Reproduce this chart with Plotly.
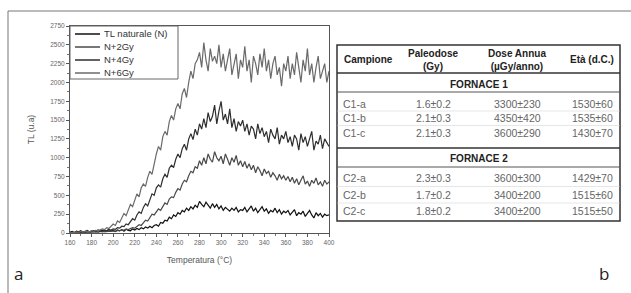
import plotly.graph_objects as go

W, H = 631, 293

temps = list(range(160, 401, 2))

tl_nat = [10,20,5,25,15,30,10,20,35,15,25,30,20,40,25,35,20,30,45,25,
          35,20,40,30,45,25,50,35,30,55,40,60,45,70,55,80,65,90,70,100,
          110,90,140,130,170,160,210,190,240,220,270,250,300,280,330,300,350,320,370,340,
          420,380,350,410,360,330,390,340,380,320,360,300,340,310,290,330,300,340,280,310,
          300,340,280,320,360,290,330,270,310,350,290,320,260,300,280,330,270,310,250,290,
          270,300,240,280,310,230,270,250,290,220,260,300,240,200,270,230,260,210,250,230,
          240]
n2gy = [0,8,3,10,5,12,7,10,15,9,14,12,18,10,20,15,22,18,25,20,
        28,22,35,30,40,38,50,45,60,70,65,90,110,100,140,170,160,210,250,240,
        280,320,300,360,400,380,450,480,470,540,590,570,650,700,680,760,820,800,880,860,
        960,900,1000,920,1050,980,940,1080,1000,960,1020,920,1050,980,900,1000,940,1030,900,960,
        880,950,860,920,840,900,800,880,830,760,850,790,820,740,800,760,700,780,720,760,
        700,750,680,740,660,720,640,700,760,650,690,620,700,660,730,640,680,620,700,650,
        680]
n4gy = [0,5,10,3,12,8,15,10,20,14,18,25,15,30,22,28,35,30,45,40,
        55,48,70,65,90,85,120,110,160,190,170,240,280,260,340,390,360,450,520,500,
        600,640,610,720,780,740,860,900,870,980,1050,1000,1120,1180,1100,1250,1320,1240,1380,1300,
        1450,1380,1520,1400,1600,1480,1550,1700,1450,1620,1750,1500,1580,1450,1650,1400,1520,1350,1480,1420,
        1500,1350,1450,1300,1420,1380,1250,1450,1320,1400,1280,1350,1200,1380,1300,1250,1400,1180,1300,1250,
        1350,1200,1280,1150,1300,1250,1100,1320,1200,1280,1150,1250,1350,1100,1220,1180,1300,1120,1250,1200,
        1150]
n6gy = [0,10,5,15,8,20,12,18,25,15,30,22,35,28,40,55,45,70,60,90,
        120,100,160,140,210,260,230,320,380,350,450,520,480,600,650,620,740,820,780,930,
        1050,1150,1100,1280,1350,1300,1480,1560,1500,1650,1720,1650,1850,1920,1800,2000,2150,2050,2250,2300,
        2400,2200,2530,2300,2150,2450,2280,2350,2250,2500,2200,2380,2150,2300,2450,2100,2250,2380,2050,2300,
        2200,2480,2150,2300,2000,2350,2250,2100,2380,2200,2450,2150,2300,2050,2250,2350,2100,2200,1950,2250,
        2150,2350,2050,2250,2100,2400,2200,2000,2300,2150,2450,2100,2250,2000,2200,2350,2050,2150,2250,2000,
        2150]

series_names = ["TL naturale (N)", "N+2Gy", "N+4Gy", "N+6Gy"]
series_vals = [tl_nat, n2gy, n4gy, n6gy]
series_cols = ["#111111", "#4a4a4a", "#2e2e2e", "#6a6a6a"]

x_ticks = list(range(160, 401, 20))
y_ticks = list(range(0, 2751, 250))

table_header = ["Campione", "Paleodose<br>(Gy)", "Dose Annua<br>(µGy/anno)", "Età (d.C.)"]
groups = ["FORNACE 1", "FORNACE 2"]
samples = [["C1-a", "C1-b", "C1-c"], ["C2-a", "C2-b", "C2-c"]]
paleodose = [["1.6±0.2", "2.1±0.3", "2.1±0.3"], ["2.3±0.3", "1.7±0.2", "1.8±0.2"]]
dose_annua = [["3300±230", "4350±420", "3600±290"], ["3600±300", "3400±200", "3400±200"]]
eta = [["1530±60", "1535±60", "1430±70"], ["1429±70", "1515±60", "1515±50"]]

def px(x):
    return x / W

def py(y):
    return 1 - y / H

FONT = "Liberation Sans, Arial"

fig = go.Figure()
for name, vals, col in zip(series_names, series_vals, series_cols):
    fig.add_trace(go.Scatter(x=temps, y=vals, mode="lines", name=name,
                             line=dict(color=col, width=1.2)))

axis_common = dict(showgrid=False, zeroline=False, showline=True, linecolor="#555",
                   linewidth=1, mirror=True, ticks="outside", ticklen=3, tickcolor="#555",
                   automargin=False,
                   tickfont=dict(family=FONT, size=6.5, color="#666"))

fig.update_xaxes(range=[160, 400], tickvals=x_ticks, domain=[px(70), px(329)],
                 title=dict(text="Temperatura (°C)", font=dict(family=FONT, size=8.5, color="#555"), standoff=12),
                 minor=dict(ticks="outside", ticklen=2, tickcolor="#777", dtick=10),
                 **axis_common)
fig.update_yaxes(range=[0, 2750], tickvals=y_ticks, domain=[py(233), py(26)],
                 title=dict(text="TL (u.a)", font=dict(family=FONT, size=8.5, color="#555"), standoff=14),
                 minor=dict(ticks="outside", ticklen=2, tickcolor="#777", dtick=125),
                 **axis_common)

fig.update_layout(
    width=W, height=H, margin=dict(l=0, r=0, t=0, b=0),
    paper_bgcolor="white", plot_bgcolor="white",
    showlegend=False,
)

shapes = []
annots = []

def text(x, y, s, font, xanchor="center", yanchor="middle", align="center"):
    annots.append(dict(x=px(x), y=py(y), xref="paper", yref="paper", text=s, showarrow=False,
                       xanchor=xanchor, yanchor=yanchor, align=align, font=font))

# outer frame
shapes.append(dict(type="rect", xref="paper", yref="paper", x0=px(8), y0=py(300), x1=px(640), y1=py(11),
                   line=dict(color="#777", width=1)))
text(18, 273, "a", dict(family="Open Sans, Liberation Sans", size=17, color="#222"))
text(604, 273, "b", dict(family="Open Sans, Liberation Sans", size=17, color="#222"))

# legend (drawn)
shapes.append(dict(type="rect", xref="paper", yref="paper", x0=px(70), y0=py(79), x1=px(178), y1=py(26),
                   line=dict(color="#666", width=1), fillcolor="white", layer="above"))
for i, (name, col) in enumerate(zip(series_names, series_cols)):
    ly = 34 + 13 * i
    shapes.append(dict(type="line", xref="paper", yref="paper", x0=px(75), x1=px(100), y0=py(ly), y1=py(ly),
                       line=dict(color=col, width=1.5), layer="above"))
    text(102, ly, name, dict(family=FONT, size=9.5, color="#333"), xanchor="left")

# table
tx0, tx1 = 337, 620
ty0, ty1 = 45, 221
shapes.append(dict(type="rect", xref="paper", yref="paper", x0=px(tx0), y0=py(ty1), x1=px(tx1), y1=py(ty0),
                   line=dict(color="#333", width=1.5)))
col_x = [368, 433, 517, 592]
hdr_font = dict(family=FONT, size=10, color="#222")
for cx, t in zip(col_x, table_header):
    text(cx, 60, "<b>" + t + "</b>", hdr_font)

def hline(y, w, c):
    shapes.append(dict(type="line", xref="paper", yref="paper", x0=px(tx0), x1=px(tx1), y0=py(y), y1=py(y),
                       line=dict(color=c, width=w)))

cell_font = dict(family=FONT, size=10.5, color="#666")
group_rows = [(73, 84, 92, [104, 118, 133]), (148, 158, 167, [178, 195, 211])]
for gi, (ltop, gy, lbot, rows) in enumerate(group_rows):
    hline(ltop, 1.5, "#333")
    text((tx0 + tx1) / 2, gy, "<b>" + groups[gi] + "</b>", hdr_font)
    hline(lbot, 1, "#555")
    for ri, ry in enumerate(rows):
        text(341, ry, samples[gi][ri], cell_font, xanchor="left")
        for cx, vals in zip(col_x[1:], [paleodose, dose_annua, eta]):
            text(cx, ry, vals[gi][ri], cell_font)
        if ri < 2:
            hline((ry + rows[ri + 1]) / 2, 0.5, "#ccc")

fig.update_layout(shapes=shapes, annotations=annots)
fig.write_html("out.html", config={"displayModeBar": False},
               post_script="document.body.style.margin='0';document.body.style.padding='0';")
